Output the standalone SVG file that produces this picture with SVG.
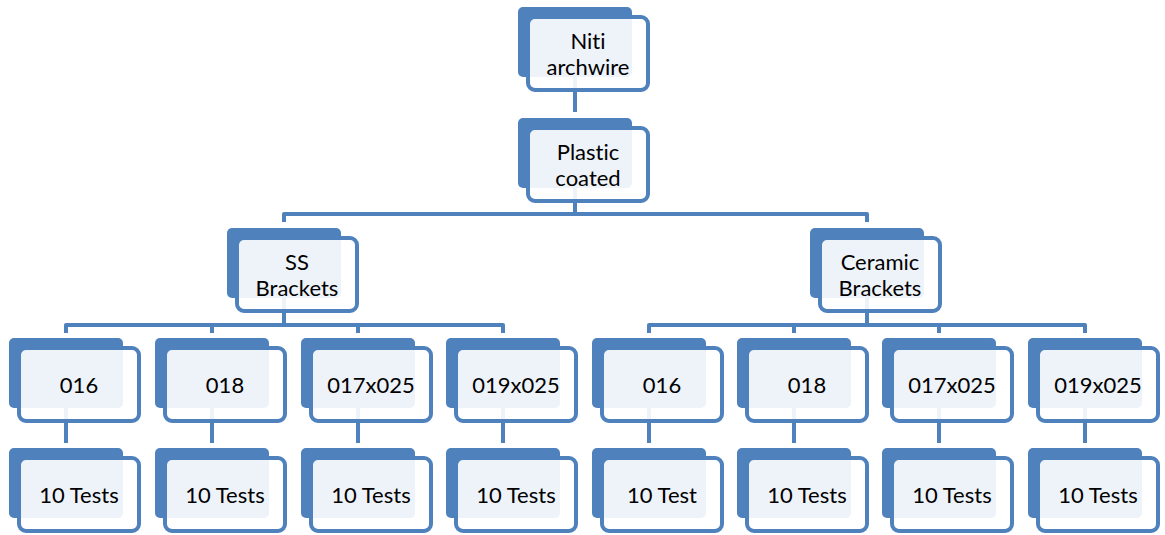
<svg xmlns="http://www.w3.org/2000/svg" width="1165" height="535" viewBox="0 0 1165 535">
  <style>
    .back { fill: #4F81BD; }
    .front { fill: #FFFFFF; fill-opacity: 0.9; stroke: #4F81BD; stroke-width: 4; }
    .lbl { font-family: Lato, "Liberation Sans", sans-serif; font-size: 22px; fill: #000000; text-anchor: middle; font-variant-ligatures: none; font-feature-settings: "liga" 0, "dlig" 0; }
    .conn { fill: none; stroke: #4F81BD; stroke-width: 4; stroke-linejoin: round; }
  </style>
  <defs>
    <g id="box">
      <rect class="back" x="0" y="0" width="114" height="70" rx="5"/>
      <rect class="front" x="10" y="10" width="120" height="73" rx="7"/>
    </g>
  </defs>

  <!-- connectors, drawn first so the translucent boxes sit over them -->
  <g id="connectors" class="conn">
    <path d="M575,77 V112"/>
    <path d="M575,188 V214"/>
    <path d="M284,222 V214 H867 V222"/>
    <path d="M284,298 V325"/>
    <path d="M867,298 V325"/>
    <path d="M66,333 V325 H503 V333 M212,325 V333 M358,325 V333"/>
    <path d="M649,333 V325 H1085 V333 M794,325 V333 M939,325 V333"/>
    <path d="M66,408 V443 M212,408 V443 M358,408 V443 M503,408 V443"/>
    <path d="M649,408 V443 M794,408 V443 M939,408 V443 M1085,408 V443"/>
  </g>

  <!-- root -->
  <g id="niti" transform="translate(518,7)">
    <use href="#box"/>
    <text class="lbl" x="70" y="42">Niti</text>
    <text class="lbl" x="70" y="68">archwire</text>
  </g>
  <g id="plastic" transform="translate(518,118)">
    <use href="#box"/>
    <text class="lbl" x="70" y="42">Plastic</text>
    <text class="lbl" x="70" y="68">coated</text>
  </g>

  <!-- bracket types -->
  <g id="ss" transform="translate(227,228)">
    <use href="#box"/>
    <text class="lbl" x="70" y="42">SS</text>
    <text class="lbl" x="70" y="68">Brackets</text>
  </g>
  <g id="ceramic" transform="translate(810,228)">
    <use href="#box"/>
    <text class="lbl" x="70" y="42">Ceramic</text>
    <text class="lbl" x="70" y="68">Brackets</text>
  </g>

  <!-- wire sizes, SS -->
  <g id="ss-016" transform="translate(9,338)"><use href="#box"/><text class="lbl" x="70" y="55">016</text></g>
  <g id="ss-018" transform="translate(155,338)"><use href="#box"/><text class="lbl" x="70" y="55">018</text></g>
  <g id="ss-017x025" transform="translate(301,338)"><use href="#box"/><text class="lbl" x="70" y="55">017x025</text></g>
  <g id="ss-019x025" transform="translate(446,338)"><use href="#box"/><text class="lbl" x="70" y="55">019x025</text></g>

  <!-- wire sizes, ceramic -->
  <g id="ce-016" transform="translate(592,338)"><use href="#box"/><text class="lbl" x="70" y="55">016</text></g>
  <g id="ce-018" transform="translate(737,338)"><use href="#box"/><text class="lbl" x="70" y="55">018</text></g>
  <g id="ce-017x025" transform="translate(882,338)"><use href="#box"/><text class="lbl" x="70" y="55">017x025</text></g>
  <g id="ce-019x025" transform="translate(1028,338)"><use href="#box"/><text class="lbl" x="70" y="55">019x025</text></g>

  <!-- test counts -->
  <g id="ss-016-tests" transform="translate(9,448)"><use href="#box"/><text class="lbl" x="70" y="55">10 Tests</text></g>
  <g id="ss-018-tests" transform="translate(155,448)"><use href="#box"/><text class="lbl" x="70" y="55">10 Tests</text></g>
  <g id="ss-017x025-tests" transform="translate(301,448)"><use href="#box"/><text class="lbl" x="70" y="55">10 Tests</text></g>
  <g id="ss-019x025-tests" transform="translate(446,448)"><use href="#box"/><text class="lbl" x="70" y="55">10 Tests</text></g>
  <g id="ce-016-tests" transform="translate(592,448)"><use href="#box"/><text class="lbl" x="70" y="55">10 Test</text></g>
  <g id="ce-018-tests" transform="translate(737,448)"><use href="#box"/><text class="lbl" x="70" y="55">10 Tests</text></g>
  <g id="ce-017x025-tests" transform="translate(882,448)"><use href="#box"/><text class="lbl" x="70" y="55">10 Tests</text></g>
  <g id="ce-019x025-tests" transform="translate(1028,448)"><use href="#box"/><text class="lbl" x="70" y="55">10 Tests</text></g>
</svg>
